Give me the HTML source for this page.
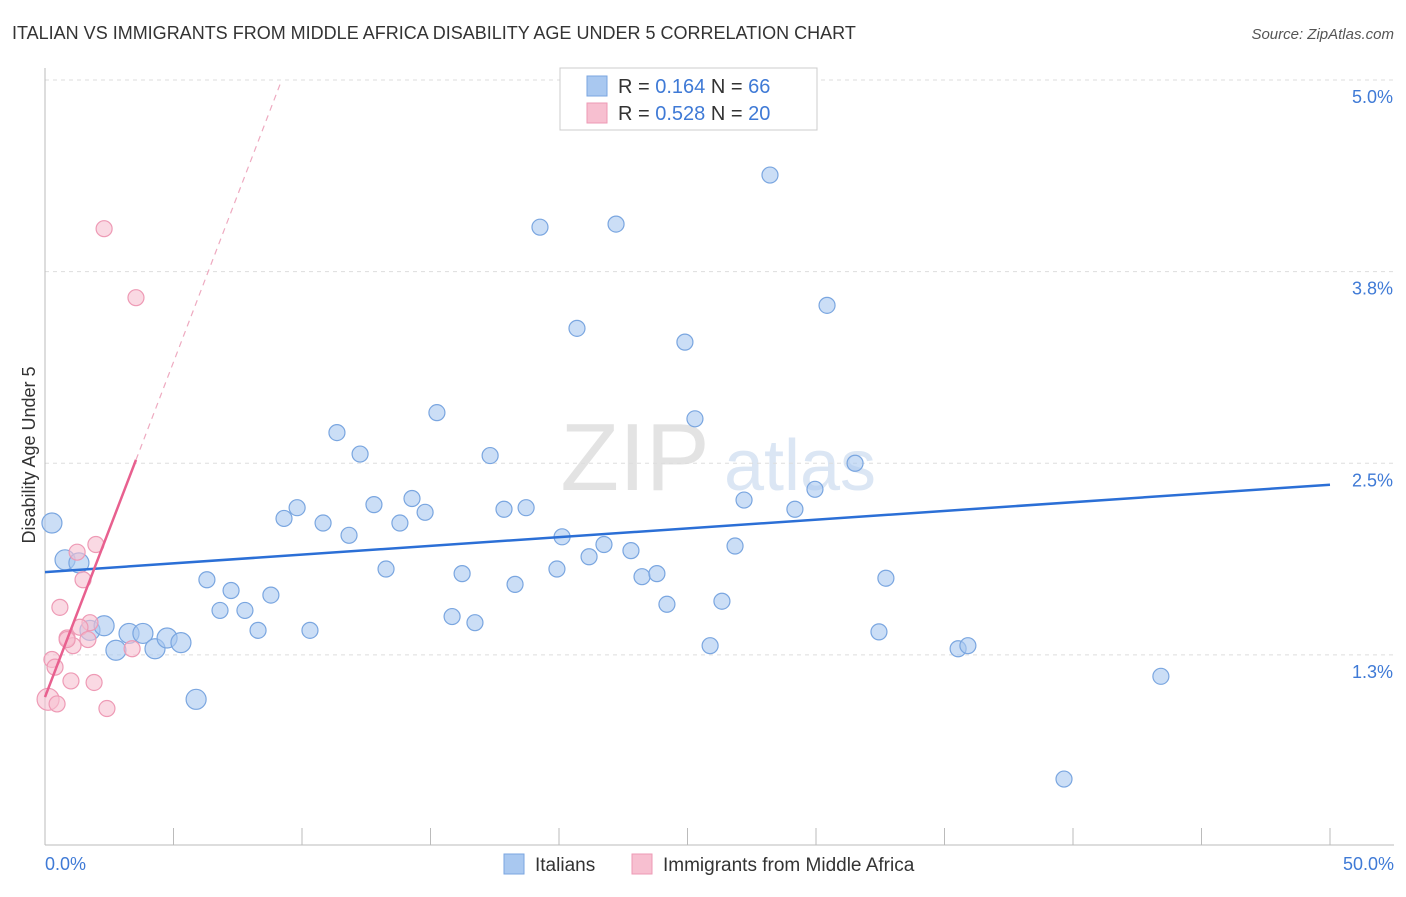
<!DOCTYPE html>
<html><head><meta charset="utf-8"><style>
body{margin:0;background:#fff;font-family:"Liberation Sans",sans-serif;}
svg text{font-family:"Liberation Sans",sans-serif;}
</style></head><body>
<svg id="chart" width="1406" height="892">
<text x="12" y="39" font-size="18" fill="#333">ITALIAN VS IMMIGRANTS FROM MIDDLE AFRICA DISABILITY AGE UNDER 5 CORRELATION CHART</text>
<text x="1394" y="39" font-size="15" fill="#555" font-style="italic" text-anchor="end">Source: ZipAtlas.com</text>
<text x="35" y="455" font-size="18" fill="#333" transform="rotate(-90 35 455)" text-anchor="middle">Disability Age Under 5</text>
<text x="635" y="490" font-size="96" fill="#e3e3e3" font-family="Liberation Serif" text-anchor="middle">ZIP</text>
<text x="800" y="490" font-size="72" fill="#dbe6f4" text-anchor="middle">atlas</text>
<g id="grid"></g><g id="marks"></g>
<g>
<rect x="560" y="68" width="257" height="62" fill="#fff" stroke="#ccc"/>
<rect x="587" y="76" width="20" height="20" fill="#a9c8f0" stroke="#7aa6e0"/>
<rect x="587" y="103" width="20" height="20" fill="#f7bfd0" stroke="#ee9ab5"/>
<text x="618" y="93" font-size="20" fill="#333">R = <tspan fill="#3f7ad6">0.164</tspan>   N = <tspan fill="#3f7ad6">66</tspan></text>
<text x="618" y="120" font-size="20" fill="#333">R = <tspan fill="#3f7ad6">0.528</tspan>   N = <tspan fill="#3f7ad6">20</tspan></text>
</g>
<g>
<rect x="504" y="854" width="20" height="20" fill="#a9c8f0" stroke="#7aa6e0"/>
<text x="535" y="871" font-size="19" fill="#333">Italians</text>
<rect x="632" y="854" width="20" height="20" fill="#f7bfd0" stroke="#ee9ab5"/>
<text x="663" y="871" font-size="19" fill="#333">Immigrants from Middle Africa</text>
</g>
</svg>
<script>
const blueX=[0.27,0.78,1.32,1.75,2.30,2.76,3.27,3.81,4.28,4.75,5.29,5.88,6.30,6.81,7.24,7.78,8.29,8.79,9.30,9.81,10.31,10.82,11.36,11.83,12.26,12.80,13.27,13.81,14.28,14.79,15.25,15.84,16.23,16.73,17.32,17.86,18.29,18.72,19.26,19.92,20.12,20.70,21.17,21.75,22.22,22.80,23.23,23.81,24.20,24.90,25.29,25.88,26.34,26.85,27.20,28.21,29.18,29.96,30.43,31.52,32.45,32.72,35.53,35.91,39.65,43.42];
const blueY=[2.11,1.87,1.85,1.41,1.44,1.28,1.39,1.39,1.29,1.36,1.33,0.96,1.74,1.54,1.67,1.54,1.41,1.64,2.14,2.21,1.41,2.11,2.70,2.03,2.56,2.23,1.81,2.11,2.27,2.18,2.83,1.50,1.78,1.46,2.55,2.20,1.71,2.21,4.04,1.81,2.02,3.38,1.89,1.97,4.06,1.93,1.76,1.78,1.58,3.29,2.79,1.31,1.60,1.96,2.26,4.38,2.20,2.33,3.53,2.50,1.40,1.75,1.29,1.31,0.44,1.11];
const pinkX=[2.30,3.54,1.98,1.25,1.48,0.58,1.75,1.36,0.86,1.09,1.67,3.39,0.27,0.39,1.01,1.91,0.12,0.47,2.41,0.86];
const pinkY=[4.03,3.58,1.97,1.92,1.74,1.56,1.46,1.43,1.36,1.31,1.35,1.29,1.22,1.17,1.08,1.07,0.96,0.93,0.90,1.35];
const blueLine=[1.79,2.36]; // y at x=0 and x=50
const pinkLine=[0.975,0.437]; // intercept, slope
const yTicks=[1.25,2.5,3.75,5.0];
const yTickLabels=["1.3%","2.5%","3.8%","5.0%"];
const xTicks=[0,5,10,15,20,25,30,35,40,45,50];
const NS="http://www.w3.org/2000/svg";
const X=v=>45+v*25.7, Y=v=>80+(5-v)*153.3;
const grid=document.getElementById('grid'), marks=document.getElementById('marks');
function mk(tag,attrs,parent){const e=document.createElementNS(NS,tag);for(const k in attrs)e.setAttribute(k,attrs[k]);parent.appendChild(e);return e;}
yTicks.forEach((t,i)=>{
 const l=mk('line',{x1:45,x2:1394,y1:Y(t),y2:Y(t),stroke:'#ddd','stroke-dasharray':'4,4'},grid);
 
 
 const tx=mk('text',{x:1393,y:Y(t)+23,'font-size':18,fill:'#3f7ad6','text-anchor':'end'},grid);
 tx.textContent=yTickLabels[i];
 
 
});
let ax=mk('line',{x1:45,x2:45,y1:68,y2:845,stroke:'#bbb'},grid);


ax=mk('line',{x1:45,x2:1394,y1:845,y2:845,stroke:'#bbb'},grid);


xTicks.forEach(t=>{const l=mk('line',{x1:X(t),x2:X(t),y1:828,y2:845,stroke:'#bbb'},grid);
 
 });
let tl=mk('text',{x:45,y:870,'font-size':18,fill:'#3f7ad6'},grid);tl.textContent=xTicks[0].toFixed(1)+'%';


tl=mk('text',{x:1394,y:870,'font-size':18,fill:'#3f7ad6','text-anchor':'end'},grid);tl.textContent=xTicks[xTicks.length-1].toFixed(1)+'%';


blueX.forEach((x,i)=>{const c=mk('circle',{cx:X(x),cy:Y(blueY[i]),r:i<12?10:8,fill:'rgba(169,200,240,0.6)',stroke:'#7aa6e0','stroke-width':1.2},marks);
 
 });
pinkX.forEach((x,i)=>{const c=mk('circle',{cx:X(x),cy:Y(pinkY[i]),r:i==16?11:8,fill:'rgba(247,191,208,0.6)',stroke:'#ee9ab5','stroke-width':1.2},marks);
 
 });
let ln=mk('line',{x1:X(0),y1:Y(blueLine[0]),x2:X(50),y2:Y(blueLine[1]),stroke:'#2b6fd6','stroke-width':2.5},marks);


const pxEnd=Math.max(...pinkX), pxDash=(5-pinkLine[0])/pinkLine[1];
ln=mk('line',{x1:X(0),y1:Y(pinkLine[0]),x2:X(pxEnd),y2:Y(pinkLine[0]+pinkLine[1]*pxEnd),stroke:'#e8608f','stroke-width':2.5},marks);


ln=mk('line',{x1:X(pxEnd),y1:Y(pinkLine[0]+pinkLine[1]*pxEnd),x2:X(pxDash),y2:Y(5),stroke:'#eeaac0','stroke-width':1.2,'stroke-dasharray':'6,5'},marks);


</script>
</body></html>
